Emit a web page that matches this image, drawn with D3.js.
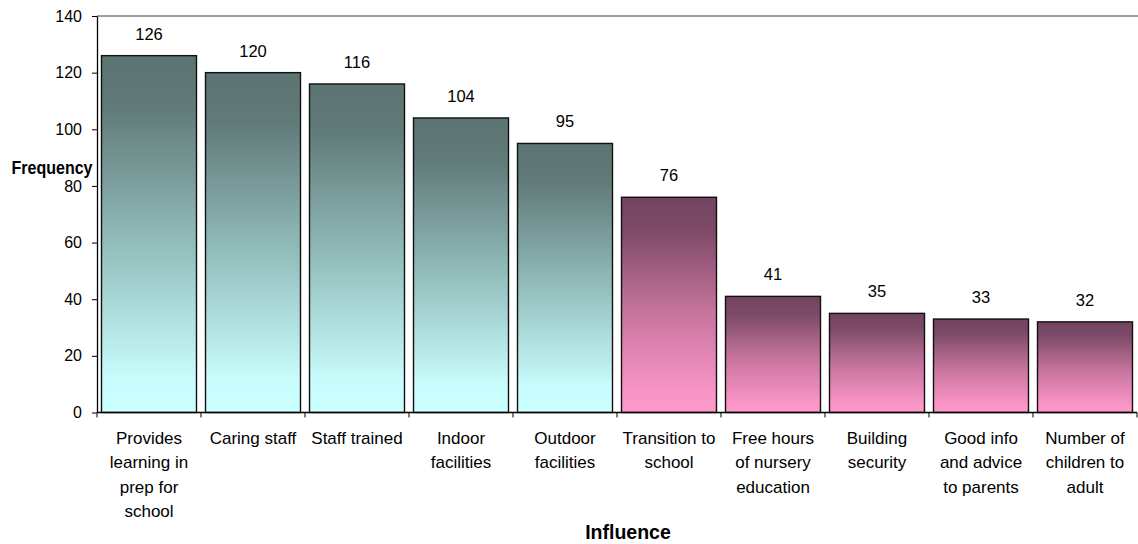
<!DOCTYPE html>
<html>
<head>
<meta charset="utf-8">
<script src="https://cdn.jsdelivr.net/npm/d3@7"></script>
<style>
  html, body { margin: 0; padding: 0; background: #fff; }
  svg { display: block; font-family: "Liberation Sans", Arial, sans-serif; }
</style>
</head>
<body>
<svg id="chart" width="1138" height="544"></svg>
<script>
// Influences on choice of childcare, ranked by frequency
const categories = [
  "Provides\nlearning in\nprep for\nschool",
  "Caring staff",
  "Staff trained",
  "Indoor\nfacilities",
  "Outdoor\nfacilities",
  "Transition to\nschool",
  "Free hours\nof nursery\neducation",
  "Building\nsecurity",
  "Good info\nand advice\nto parents",
  "Number of\nchildren to\nadult"
];
const frequencies = [126, 120, 116, 104, 95, 76, 41, 35, 33, 32];
// group 0 = teal, group 1 = pink
const groups = [0, 0, 0, 0, 0, 1, 1, 1, 1, 1];
const yTicks = [0, 20, 40, 60, 80, 100, 120, 140];
const yTitle = "Frequency";
const xTitle = "Influence";

const svg = d3.select("#chart");
const plot = { left: 97, right: 1137, top: 16, bottom: 412.5 };

const x = d3.scaleBand()
  .domain(d3.range(categories.length))
  .range([plot.left, plot.right])
  .padding(0);

const y = d3.scaleLinear()
  .domain([0, 140])
  .range([plot.bottom, plot.top]);

// Gradients: dark at the top of each bar, pale at the base
const defs = svg.append("defs");
const gradSpecs = [
  { id: "gTeal", stops: [[0, "#5c7472"], [0.15, "#617b79"], [0.55, "#95c1bf"], [0.9, "#c8fbfb"], [1, "#ccffff"]] },
  { id: "gPink", stops: [[0, "#724360"], [0.15, "#7c4a68"], [0.55, "#c9769f"], [0.9, "#f894c6"], [1, "#fd99cb"]] }
];
gradSpecs.forEach(g => {
  const lg = defs.append("linearGradient")
    .attr("id", g.id).attr("x1", 0).attr("y1", 0).attr("x2", 0).attr("y2", 1);
  g.stops.forEach(s => lg.append("stop").attr("offset", s[0]).attr("stop-color", s[1]));
});

// Top border of plot area
svg.append("line")
  .attr("x1", plot.left).attr("x2", 1138)
  .attr("y1", plot.top).attr("y2", plot.top)
  .attr("stroke", "#808080").attr("stroke-width", 1.5);

// Bars
const inset = 4.5;
svg.append("g").selectAll("rect")
  .data(frequencies)
  .join("rect")
  .attr("x", (d, i) => x(i) + inset)
  .attr("width", x.bandwidth() - inset * 2)
  .attr("y", d => y(d))
  .attr("height", d => y(0) - y(d))
  .attr("fill", (d, i) => groups[i] === 0 ? "url(#gTeal)" : "url(#gPink)")
  .attr("stroke", "#111")
  .attr("stroke-width", 1.4);

// Value labels
svg.append("g").selectAll("text")
  .data(frequencies)
  .join("text")
  .attr("x", (d, i) => x(i) + x.bandwidth() / 2)
  .attr("y", d => y(d) - 16)
  .attr("text-anchor", "middle")
  .attr("font-size", 16.5)
  .attr("fill", "#000")
  .text(d => d);

// Y axis
const yAxis = svg.append("g")
  .attr("transform", `translate(${plot.left},0)`)
  .call(d3.axisLeft(y).tickValues(yTicks).tickSize(5).tickPadding(10).tickSizeOuter(0));
yAxis.select(".domain").attr("stroke", "#000").attr("stroke-width", 1.3);
yAxis.selectAll(".tick line").attr("stroke", "#000");
yAxis.selectAll(".tick text")
  .attr("font-size", 16).attr("fill", "#000")
  .attr("font-family", "Liberation Sans, Arial, sans-serif");

// X axis: ticks at band boundaries
const xAxis = svg.append("g");
xAxis.append("line")
  .attr("x1", plot.left).attr("x2", plot.right)
  .attr("y1", plot.bottom).attr("y2", plot.bottom)
  .attr("stroke", "#000").attr("stroke-width", 1.3);
xAxis.selectAll("line.tk")
  .data(d3.range(categories.length + 1))
  .join("line")
  .attr("class", "tk")
  .attr("x1", i => i < categories.length ? x(i) : plot.right)
  .attr("x2", i => i < categories.length ? x(i) : plot.right)
  .attr("y1", plot.bottom).attr("y2", plot.bottom + 5)
  .attr("stroke", "#000");

// Category labels (multi-line)
const catLabels = xAxis.selectAll("text.cat")
  .data(categories)
  .join("text")
  .attr("class", "cat")
  .attr("text-anchor", "middle")
  .attr("font-size", 17)
  .attr("fill", "#000");
catLabels.each(function (d, i) {
  const t = d3.select(this);
  d.split("\n").forEach((line, k) => {
    t.append("tspan")
      .attr("x", x(i) + x.bandwidth() / 2)
      .attr("y", plot.bottom + 31.5 + k * 24.3)
      .text(line);
  });
});

// Axis titles
svg.append("text")
  .attr("x", 92.5).attr("y", 174)
  .attr("text-anchor", "end")
  .attr("font-size", 18).attr("font-weight", "bold")
  .attr("textLength", 81).attr("lengthAdjust", "spacingAndGlyphs")
  .text(yTitle);

svg.append("text")
  .attr("x", (plot.left + plot.right) / 2 + 11).attr("y", 539)
  .attr("text-anchor", "middle")
  .attr("font-size", 19.5).attr("font-weight", "bold")
  .text(xTitle);
</script>
</body>
</html>
